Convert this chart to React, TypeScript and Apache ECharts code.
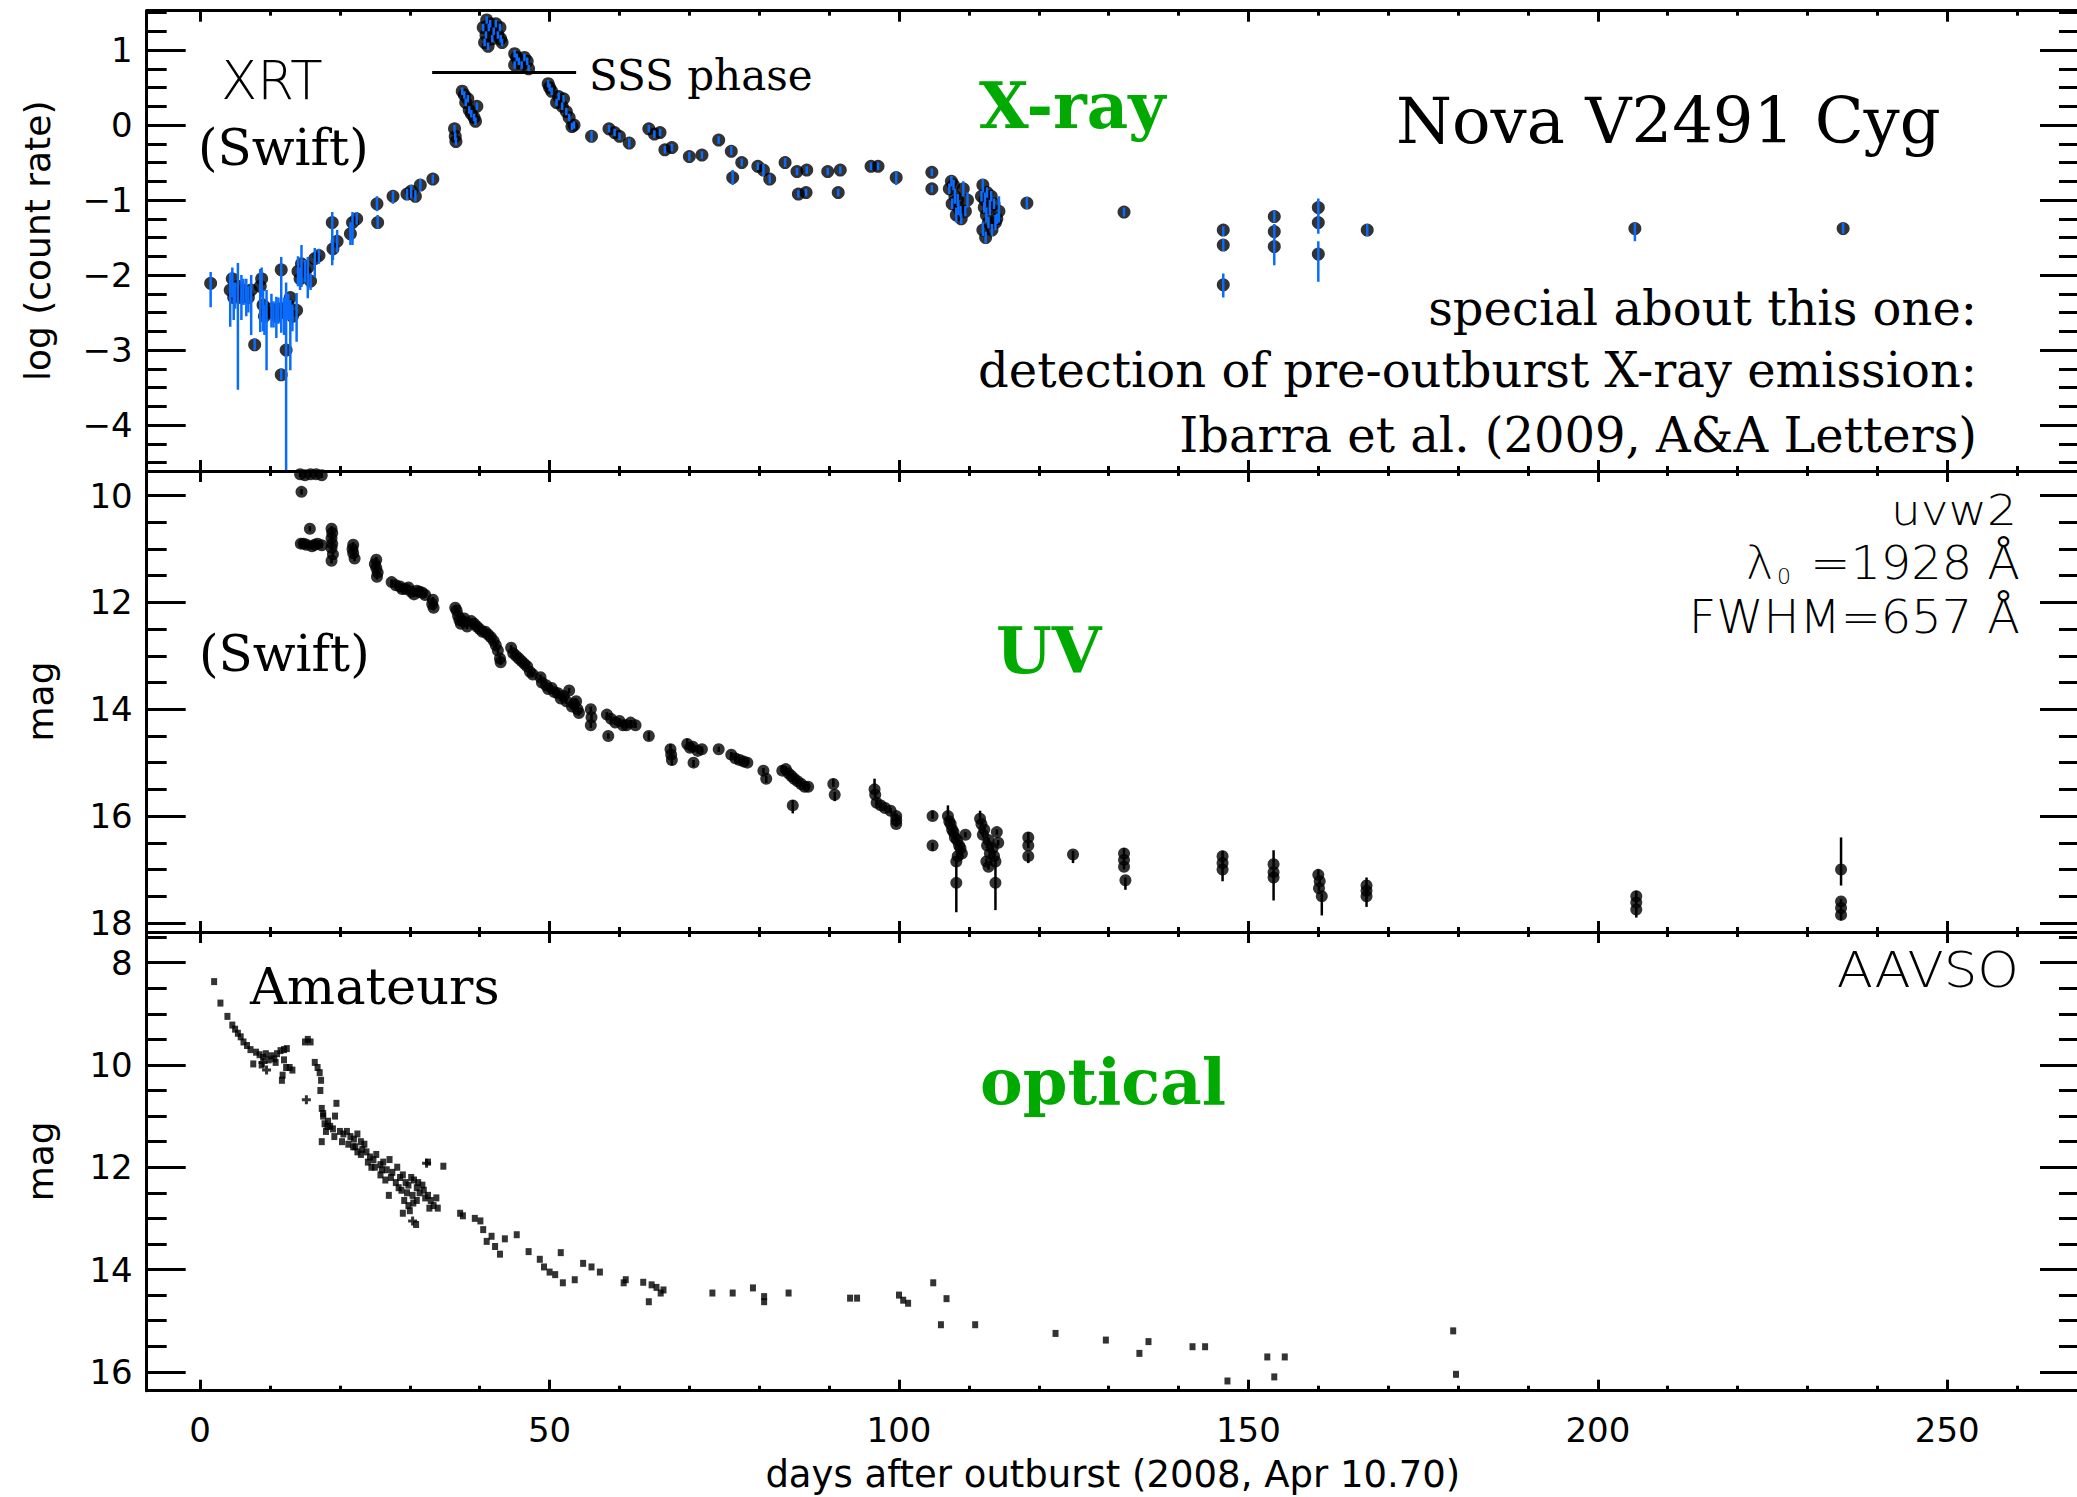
import React, { useEffect, useRef } from 'react';
import * as echarts from 'echarts';

// ---------------- data ----------------
const dayRange = [-7.65, 268.85];
const xrayRange = [-4.613, 1.524];
const uvRange = [9.54, 18.17];
const optRange = [7.4, 16.37];

const dayMajor = [0, 50, 100, 150, 200, 250];
const dayMinor = [10, 20, 30, 40, 60, 70, 80, 90, 110, 120, 130, 140, 160, 170, 180, 190, 210, 220, 230, 240, 260];
const xrayMajor = [-4, -3, -2, -1, 0, 1];
const xrayMinor = [-4.5, -4.25, -3.75, -3.5, -3.25, -2.75, -2.5, -2.25, -1.75, -1.5, -1.25, -0.75, -0.5, -0.25, 0.25, 0.5, 0.75, 1.25, 1.5];
const uvMajor = [10, 12, 14, 16, 18];
const uvMinor = [10.5, 11, 11.5, 12.5, 13, 13.5, 14.5, 15, 15.5, 16.5, 17, 17.5];
const optMajor = [8, 10, 12, 14, 16];
const optMinor = [7.5, 8.5, 9, 9.5, 10.5, 11, 11.5, 12.5, 13, 13.5, 14.5, 15, 15.5];

// Swift XRT: [day, log count rate, error low, error high]
const xrayPoints = [
  [1.5, -2.11, -2.43, -1.96], [4.3, -2.2, -2.69, -1.97], [4.6, -2.05, -2.3, -1.9], [4.8, -2.3, -2.6, -2.1],
  [5.0, -2.25, -2.45, -2.1], [5.4, -2.15, -3.53, -1.84], [5.9, -2.3, -2.6, -2.0], [6.2, -2.2, -2.4, -2.05],
  [6.6, -2.25, -2.55, -2.05], [6.9, -2.3, -2.5, -2.15], [7.3, -2.2, -2.8, -2.0], [7.8, -2.93, -3.0, -2.85],
  [8.6, -2.15, -2.76, -1.92], [8.8, -2.05, -2.3, -1.9], [9.0, -2.4, -2.75, -2.2], [9.2, -2.55, -2.8, -2.4],
  [9.5, -2.5, -3.27, -2.2], [10.2, -2.45, -2.7, -2.25], [10.5, -2.5, -2.7, -2.35], [10.9, -2.55, -2.84, -2.29],
  [11.2, -2.45, -2.65, -2.3], [11.6, -1.93, -2.77, -1.76], [11.6, -3.33, -3.4, -3.25], [12.0, -2.5, -2.8, -2.3],
  [12.3, -3.0, -4.6, -2.1], [12.6, -2.4, -2.6, -2.25], [12.9, -2.3, -3.27, -2.33], [13.2, -2.55, -2.75, -2.4],
  [13.8, -2.47, -2.89, -2.24], [14.0, -1.95, -2.15, -1.75], [14.3, -2.05, -2.2, -1.9], [14.5, -1.85, -2.16, -1.6],
  [15.0, -1.95, -2.1, -1.8], [15.4, -1.9, -2.31, -1.76], [15.8, -2.08, -2.2, -1.98], [16.4, -1.78, -2.03, -1.64],
  [17.0, -1.74, -1.85, -1.65], [18.9, -1.3, -1.87, -1.16], [19.0, -1.65, -1.8, -1.5], [19.6, -1.55, -1.7, -1.4],
  [21.5, -1.45, -1.6, -1.3], [21.8, -1.3, -1.6, -1.16], [22.4, -1.25, -1.33, -1.16], [25.3, -1.05, -1.15, -0.95],
  [25.4, -1.3, -1.38, -1.2], [27.6, -0.95, -1.05, -0.88], [29.6, -0.92, -1.0, -0.85], [30.2, -0.88, -0.98, -0.8],
  [30.8, -0.95, -1.02, -0.87], [31.5, -0.8, -0.88, -0.72], [33.3, -0.72, -0.78, -0.66],
  [36.4, -0.05, -0.1, 0.0], [36.5, -0.15, -0.2, -0.1], [36.6, -0.22, -0.27, -0.17], [37.5, 0.45, 0.4, 0.5],
  [37.8, 0.4, 0.35, 0.45], [38.0, 0.3, 0.25, 0.35], [38.3, 0.35, 0.3, 0.4], [38.5, 0.2, 0.15, 0.25],
  [38.8, 0.15, 0.1, 0.2], [39.2, 0.1, 0.05, 0.15], [39.4, 0.05, 0.0, 0.1], [39.6, 0.25, 0.2, 0.3],
  [40.5, 1.3, 1.25, 1.35], [40.7, 1.1, 1.05, 1.15], [40.9, 1.2, 1.15, 1.25], [41.0, 1.4, 1.35, 1.45],
  [41.2, 1.05, 1.0, 1.1], [41.3, 1.3, 1.25, 1.35], [41.5, 1.35, 1.3, 1.4], [41.8, 1.15, 1.1, 1.2],
  [42.0, 1.25, 1.2, 1.3], [42.3, 1.35, 1.3, 1.4], [42.6, 1.2, 1.15, 1.25], [42.9, 1.3, 1.25, 1.35],
  [43.0, 1.15, 1.1, 1.2], [43.2, 1.1, 1.05, 1.15],
  [45.0, 0.95, 0.9, 1.0], [45.0, 0.8, 0.75, 0.85], [45.3, 0.9, 0.85, 0.95], [45.6, 0.85, 0.8, 0.9],
  [46.0, 0.8, 0.75, 0.85], [46.4, 0.9, 0.85, 0.95], [46.8, 0.85, 0.8, 0.9], [47.0, 0.75, 0.7, 0.8],
  [49.8, 0.55, 0.5, 0.6], [50.0, 0.5, 0.45, 0.55], [50.3, 0.45, 0.4, 0.5], [51.0, 0.3, 0.25, 0.35],
  [51.3, 0.38, 0.33, 0.43], [51.8, 0.25, 0.2, 0.3], [52.0, 0.35, 0.3, 0.4], [52.4, 0.18, 0.13, 0.23],
  [52.8, 0.1, 0.05, 0.15], [53.2, -0.02, -0.07, 0.03], [53.5, 0.0, -0.05, 0.05], [56.0, -0.15, -0.22, -0.08],
  [58.5, -0.05, -0.1, 0.0], [59.3, -0.1, -0.15, -0.05], [60.0, -0.15, -0.2, -0.1], [61.4, -0.24, -0.3, -0.18],
  [64.2, -0.05, -0.1, 0.0], [65.0, -0.12, -0.17, -0.07], [65.8, -0.1, -0.15, -0.05], [66.5, -0.33, -0.38, -0.28],
  [67.5, -0.3, -0.35, -0.25], [70.0, -0.42, -0.48, -0.36], [71.8, -0.4, -0.45, -0.35], [74.2, -0.2, -0.25, -0.15],
  [76.0, -0.35, -0.4, -0.28], [76.2, -0.7, -0.8, -0.6], [77.5, -0.5, -0.55, -0.45], [79.8, -0.55, -0.6, -0.5],
  [80.6, -0.6, -0.68, -0.52], [81.5, -0.72, -0.78, -0.66], [83.7, -0.5, -0.56, -0.44], [85.4, -0.62, -0.67, -0.57],
  [86.8, -0.6, -0.65, -0.55], [85.6, -0.92, -0.97, -0.87], [86.7, -0.9, -0.95, -0.85], [89.8, -0.62, -0.67, -0.57],
  [91.6, -0.6, -0.65, -0.55], [91.3, -0.9, -0.95, -0.85], [96.0, -0.55, -0.6, -0.5], [97.0, -0.55, -0.6, -0.5],
  [99.6, -0.7, -0.8, -0.62], [104.7, -0.63, -0.68, -0.58], [104.7, -0.85, -0.9, -0.8],
  [107.2, -0.85, -0.92, -0.78], [107.5, -0.75, -0.82, -0.68], [107.6, -1.05, -1.12, -0.98], [107.8, -0.8, -0.87, -0.73],
  [108.0, -0.95, -1.05, -0.85], [108.2, -1.2, -1.3, -1.1], [108.4, -1.0, -1.08, -0.92], [108.5, -1.1, -1.2, -1.0],
  [108.8, -1.15, -1.22, -1.08], [108.9, -1.25, -1.32, -1.18], [109.2, -0.85, -0.95, -0.75], [109.5, -1.15, -1.22, -1.08],
  [109.8, -1.0, -1.1, -0.9],
  [111.8, -0.95, -1.02, -0.88], [112.0, -0.8, -0.9, -0.72], [112.0, -1.4, -1.48, -1.3], [112.2, -1.1, -1.17, -1.03],
  [112.3, -1.0, -1.1, -0.9], [112.4, -1.5, -1.58, -1.42], [112.5, -1.2, -1.3, -1.1], [112.6, -0.9, -0.97, -0.83],
  [112.8, -1.3, -1.38, -1.22], [113.0, -1.1, -1.2, -1.0], [113.2, -0.95, -1.02, -0.88], [113.3, -1.4, -1.48, -1.32],
  [113.6, -1.05, -1.12, -0.98], [113.8, -1.3, -1.4, -1.2], [114.0, -1.25, -1.32, -1.18], [114.3, -1.15, -1.3, -0.95],
  [118.3, -1.04, -1.12, -0.96], [132.2, -1.16, -1.22, -1.1], [146.4, -1.4, -1.48, -1.35], [146.4, -1.6, -1.68, -1.52],
  [146.4, -2.13, -2.3, -1.98], [153.7, -1.22, -1.3, -1.14], [153.7, -1.42, -1.52, -1.32], [153.7, -1.62, -1.87, -1.5],
  [160.0, -1.1, -1.2, -0.98], [160.0, -1.3, -1.45, -1.15], [160.0, -1.72, -2.09, -1.55], [167.0, -1.4, -1.48, -1.32],
  [205.3, -1.38, -1.55, -1.3], [235.1, -1.38, -1.45, -1.3],
];

// SSS phase bar: [start day, end day], level in log count rate
const sssPhase = [33.2, 53.8];
const sssLevel = 0.7;

// Swift UVOT uvw2: [day, mag, error low (bright), error high (faint)]
const uvPoints = [
  [14.3, 9.6, 9.55, 9.65], [15.0, 9.62, 9.57, 9.67], [15.8, 9.6, 9.55, 9.65], [16.6, 9.6, 9.55, 9.65], [17.4, 9.62, 9.57, 9.67],
  [14.5, 9.93, 9.88, 9.98], [15.7, 10.62, 10.57, 10.67],
  [14.4, 10.9, 10.85, 10.95], [14.8, 10.9, 10.85, 10.95], [15.2, 10.92, 10.87, 10.97], [16.0, 10.95, 10.9, 11.0],
  [16.4, 10.92, 10.87, 10.97], [16.8, 10.9, 10.85, 10.95], [17.4, 10.93, 10.88, 10.98],
  [18.8, 10.62, 10.57, 10.67], [18.9, 10.7, 10.65, 10.75], [18.8, 10.8, 10.75, 10.85], [18.9, 10.9, 10.85, 10.95],
  [18.8, 10.98, 10.93, 11.03], [19.0, 11.1, 11.05, 11.15], [18.8, 11.22, 11.17, 11.27],
  [21.9, 10.92, 10.87, 10.97], [21.8, 11.0, 10.95, 11.05], [21.9, 11.08, 11.03, 11.13], [22.1, 11.18, 11.13, 11.23],
  [25.2, 11.2, 11.15, 11.25], [25.0, 11.28, 11.23, 11.33], [25.2, 11.35, 11.3, 11.4], [25.4, 11.44, 11.39, 11.49], [25.3, 11.52, 11.47, 11.57],
  [27.4, 11.62, 11.57, 11.67], [28.0, 11.68, 11.63, 11.73], [28.6, 11.7, 11.65, 11.75], [28.9, 11.75, 11.7, 11.8],
  [29.4, 11.75, 11.7, 11.8], [29.8, 11.72, 11.67, 11.77], [30.2, 11.8, 11.75, 11.85], [30.6, 11.85, 11.8, 11.9],
  [31.0, 11.78, 11.73, 11.83], [31.4, 11.8, 11.75, 11.85], [31.8, 11.82, 11.77, 11.87], [32.2, 11.86, 11.81, 11.91],
  [33.3, 11.95, 11.9, 12.0], [33.2, 12.03, 11.98, 12.08], [33.4, 12.1, 12.05, 12.15],
  [36.5, 12.1, 12.05, 12.15], [36.7, 12.15, 12.1, 12.2], [36.9, 12.25, 12.2, 12.3], [37.1, 12.33, 12.28, 12.38],
  [37.3, 12.4, 12.35, 12.45], [37.6, 12.35, 12.3, 12.4], [37.8, 12.3, 12.25, 12.35], [38.2, 12.45, 12.4, 12.5],
  [38.8, 12.35, 12.3, 12.4], [39.2, 12.4, 12.35, 12.45], [39.6, 12.45, 12.4, 12.5], [40.0, 12.5, 12.45, 12.55],
  [40.4, 12.55, 12.5, 12.6], [40.8, 12.55, 12.5, 12.6], [41.2, 12.6, 12.55, 12.65], [41.6, 12.65, 12.6, 12.7],
  [42.0, 12.72, 12.67, 12.77], [42.3, 12.8, 12.75, 12.85], [42.6, 12.9, 12.85, 12.95], [42.9, 13.05, 13.0, 13.1],
  [43.0, 13.12, 13.07, 13.17],
  [44.5, 12.85, 12.8, 12.9], [44.8, 12.95, 12.9, 13.0], [45.2, 13.0, 12.95, 13.05], [45.6, 13.05, 13.0, 13.1],
  [46.0, 13.1, 13.05, 13.15], [46.4, 13.15, 13.1, 13.2], [46.8, 13.2, 13.15, 13.25], [47.2, 13.3, 13.25, 13.35],
  [47.6, 13.35, 13.3, 13.4],
  [48.7, 13.4, 13.35, 13.45], [48.9, 13.5, 13.45, 13.55], [49.5, 13.55, 13.5, 13.6], [49.8, 13.62, 13.57, 13.67],
  [50.3, 13.6, 13.55, 13.65], [50.7, 13.68, 13.63, 13.73], [51.2, 13.7, 13.65, 13.75], [51.6, 13.8, 13.75, 13.85],
  [52.0, 13.75, 13.7, 13.8], [52.4, 13.85, 13.8, 13.9], [52.8, 13.65, 13.6, 13.7], [53.2, 13.95, 13.9, 14.0],
  [53.5, 13.9, 13.85, 13.95], [53.8, 13.85, 13.8, 13.9], [54.0, 14.0, 13.95, 14.05], [54.2, 14.07, 14.02, 14.12],
  [55.9, 14.0, 13.95, 14.05], [56.0, 14.15, 14.1, 14.2], [55.9, 14.3, 14.25, 14.35],
  [58.2, 14.1, 14.05, 14.15], [58.8, 14.18, 14.13, 14.23], [59.4, 14.25, 14.2, 14.3], [60.0, 14.22, 14.17, 14.27],
  [60.5, 14.3, 14.25, 14.35], [61.0, 14.3, 14.25, 14.35], [61.6, 14.25, 14.2, 14.3], [62.3, 14.3, 14.25, 14.35],
  [58.4, 14.5, 14.45, 14.55], [64.2, 14.5, 14.42, 14.58],
  [67.3, 14.75, 14.65, 14.8], [67.4, 14.85, 14.8, 14.9], [67.5, 14.95, 14.9, 15.05],
  [69.7, 14.65, 14.55, 14.7], [70.1, 14.72, 14.67, 14.77], [70.5, 14.7, 14.65, 14.75], [71.2, 14.78, 14.73, 14.83],
  [71.8, 14.75, 14.7, 14.8], [70.6, 15.0, 14.95, 15.08], [74.2, 14.75, 14.7, 14.8],
  [76.0, 14.85, 14.8, 14.9], [76.6, 14.92, 14.87, 14.97], [77.2, 14.95, 14.9, 15.0], [77.8, 14.98, 14.93, 15.03], [78.3, 15.0, 14.95, 15.05],
  [80.6, 15.15, 15.1, 15.2], [81.0, 15.3, 15.25, 15.38],
  [83.3, 15.15, 15.05, 15.2], [83.8, 15.12, 15.07, 15.17], [84.2, 15.2, 15.15, 15.25], [84.6, 15.25, 15.2, 15.3],
  [85.0, 15.3, 15.25, 15.35], [85.5, 15.35, 15.3, 15.4], [86.0, 15.4, 15.35, 15.45], [86.5, 15.45, 15.4, 15.5],
  [87.0, 15.45, 15.4, 15.5], [84.8, 15.8, 15.7, 15.95],
  [90.6, 15.4, 15.3, 15.45], [90.8, 15.6, 15.55, 15.72],
  [96.5, 15.5, 15.3, 15.55], [96.6, 15.6, 15.55, 15.65], [96.8, 15.75, 15.7, 15.8], [97.4, 15.8, 15.75, 15.85],
  [98.0, 15.85, 15.8, 15.9], [98.8, 15.9, 15.85, 15.95], [99.6, 16.0, 15.95, 16.05], [99.6, 16.08, 16.03, 16.13], [99.6, 16.15, 16.1, 16.2],
  [104.8, 16.0, 15.9, 16.05], [104.8, 16.55, 16.5, 16.65],
  [107.0, 16.0, 15.8, 16.05], [107.2, 16.1, 16.05, 16.15], [107.4, 16.15, 16.1, 16.2], [107.6, 16.25, 16.2, 16.3],
  [107.8, 16.3, 16.25, 16.35], [108.0, 16.4, 16.35, 16.45], [108.3, 16.45, 16.4, 16.5], [108.6, 16.55, 16.5, 16.6],
  [108.8, 16.6, 16.55, 16.65], [109.0, 16.7, 16.65, 16.75], [108.4, 16.75, 16.7, 16.8], [109.5, 16.35, 16.3, 16.4],
  [108.2, 16.85, 16.8, 16.9], [108.2, 17.25, 16.9, 17.8],
  [111.6, 16.05, 15.9, 16.1], [111.8, 16.15, 16.1, 16.2], [112.0, 16.35, 16.3, 16.4], [112.2, 16.25, 16.2, 16.3],
  [112.6, 16.55, 16.5, 16.6], [112.8, 16.45, 16.4, 16.5], [113.0, 16.7, 16.65, 16.75], [113.4, 16.6, 16.55, 16.65],
  [113.6, 16.75, 16.7, 16.8], [114.0, 16.3, 16.25, 16.35], [114.2, 16.5, 16.45, 16.55], [112.5, 16.85, 16.8, 16.9],
  [112.8, 16.95, 16.9, 17.0], [113.8, 16.85, 16.8, 16.9], [113.8, 17.25, 16.9, 17.76],
  [118.5, 16.4, 16.3, 16.45], [118.5, 16.55, 16.5, 16.6], [118.5, 16.75, 16.7, 16.88],
  [124.9, 16.72, 16.65, 16.88],
  [132.2, 16.7, 16.6, 16.75], [132.2, 16.82, 16.77, 16.87], [132.2, 16.95, 16.9, 17.0], [132.4, 17.2, 17.15, 17.38],
  [146.3, 16.75, 16.65, 16.8], [146.3, 16.88, 16.83, 16.93], [146.3, 17.0, 16.95, 17.22],
  [153.6, 16.9, 16.64, 16.95], [153.6, 17.05, 17.0, 17.1], [153.6, 17.15, 17.1, 17.58],
  [160.0, 17.1, 17.0, 17.15], [160.2, 17.22, 17.17, 17.27], [160.1, 17.35, 17.3, 17.4], [160.5, 17.5, 17.45, 17.86],
  [166.9, 17.3, 17.15, 17.35], [166.9, 17.4, 17.35, 17.45], [166.9, 17.5, 17.45, 17.7],
  [205.5, 17.5, 17.4, 17.55], [205.5, 17.62, 17.57, 17.67], [205.5, 17.75, 17.7, 17.9],
  [234.8, 17.0, 16.4, 17.3], [234.8, 17.6, 17.55, 17.65], [234.8, 17.72, 17.67, 17.77], [234.8, 17.85, 17.8, 17.95],
];

// AAVSO optical: [day, mag]
const optPoints = [
  [2.0, 8.37], [2.9, 8.79], [3.9, 9.05], [4.6, 9.22], [5.0, 9.3], [5.4, 9.38], [5.8, 9.45], [6.2, 9.55], [6.7, 9.62],
  [7.2, 9.7], [7.6, 9.98], [8.0, 9.75], [8.5, 9.8], [8.8, 10.0], [9.0, 9.85], [9.4, 9.78], [9.8, 9.9], [10.2, 9.82],
  [10.6, 9.88], [10.8, 9.95], [11.0, 9.78], [11.5, 9.72], [12.0, 9.7], [12.0, 9.9], [12.4, 9.68], [11.8, 10.2],
  [12.3, 10.05], [12.8, 10.05], [13.2, 10.1], [11.7, 10.3],
  [15.0, 9.55], [15.4, 9.5], [15.8, 9.55], [16.4, 9.95], [16.8, 10.05], [17.1, 10.15], [17.3, 10.3], [17.2, 10.5],
  [17.4, 11.5], [17.4, 10.85], [17.6, 11.0], [17.8, 11.15], [18.0, 11.3], [18.2, 11.2], [18.3, 11.1], [18.6, 11.2],
  [19.0, 11.25], [19.2, 11.4], [19.3, 11.0], [19.5, 10.75], [17.6, 10.95], [20.0, 11.3], [20.3, 11.5], [20.5, 11.35],
  [21.0, 11.3], [21.2, 11.55], [21.5, 11.4], [22.0, 11.45], [22.2, 11.6], [22.5, 11.35], [23.0, 11.5], [23.2, 11.65],
  [23.5, 11.55], [21.9, 11.6], [22.5, 11.7], [23.0, 11.75], [23.8, 11.7], [24.0, 11.9], [24.3, 11.8], [24.8, 11.85],
  [25.0, 12.0], [25.2, 11.75], [25.8, 11.95], [26.0, 12.05], [26.2, 11.9], [26.7, 12.05], [27.1, 11.85], [24.5, 12.0],
  [25.8, 12.15], [26.5, 12.25], [27.3, 12.2], [27.5, 12.1], [28.0, 12.3], [28.2, 12.0], [28.4, 12.4], [28.8, 12.45],
  [27.0, 12.55], [28.6, 12.2], [29.0, 12.15], [29.4, 12.3], [29.6, 12.5], [29.8, 12.35], [30.2, 12.2], [30.4, 12.55],
  [30.6, 12.25], [31.0, 12.4], [31.2, 12.3], [31.4, 12.5], [31.8, 12.35], [32.0, 12.45], [32.2, 12.6], [32.6, 12.55],
  [29.2, 12.65], [29.8, 12.75], [30.5, 12.7], [31.0, 12.65], [32.8, 12.8], [33.0, 12.65], [33.4, 12.75], [33.8, 12.6],
  [34.0, 12.8], [32.6, 11.9], [34.8, 11.98], [30.9, 13.12], [29.0, 12.9], [30.0, 12.85],
  [37.2, 12.9], [37.6, 12.95], [39.3, 13.0], [40.1, 13.05], [40.5, 13.22], [41.0, 13.45], [41.7, 13.35], [42.2, 13.55],
  [42.9, 13.7], [43.6, 13.4], [45.3, 13.32], [47.0, 13.65], [48.6, 13.8], [49.2, 13.95], [50.0, 14.05], [50.8, 14.1],
  [51.6, 13.67], [51.9, 14.26], [53.6, 14.2], [54.8, 13.88], [56.0, 13.95], [57.2, 14.05], [60.6, 14.26], [60.9, 14.2],
  [63.4, 14.25], [64.2, 14.63], [64.6, 14.3], [65.3, 14.35], [65.9, 14.46], [66.3, 14.4], [73.3, 14.46], [76.2, 14.46],
  [79.1, 14.36], [80.7, 14.53], [80.7, 14.63], [84.2, 14.46], [93.0, 14.56], [94.0, 14.56], [100.0, 14.5], [100.6, 14.6],
  [101.3, 14.66], [104.9, 14.26], [106.8, 14.57], [106.0, 15.08], [110.9, 15.08], [122.4, 15.25], [129.6, 15.38],
  [134.4, 15.64], [135.7, 15.41], [142.0, 15.51], [143.8, 15.51], [147.0, 16.18], [152.7, 15.71], [155.2, 15.71],
  [153.7, 16.1], [179.3, 15.2], [179.7, 16.05],
];
// AAVSO points drawn with '+'
const optPlusPoints = [[9.5, 10.1], [9.0, 9.95], [15.2, 10.68], [30.4, 13.05], [32.4, 11.92]];

// ---------------- style / layout ----------------
const BLACK = '#000000';
const GREEN = '#00aa00';
const BLUE = '#0a6cff';
const SANS = '"DejaVu Sans", sans-serif';
const SERIF = '"DejaVu Serif", serif';
const GRID_LEFT = 146.7;
const GRID_WIDTH = 1932.3;
const PANELS = [
  { top: 10.7, height: 460.3 },
  { top: 471, height: 461 },
  { top: 932, height: 458.7 },
];

function xAxesFor(gi: number, showLabels: boolean) {
  const base = { gridIndex: gi, type: 'value', min: dayRange[0], max: dayRange[1], splitLine: { show: false } };
  const line = { show: true, onZero: false, lineStyle: { color: BLACK, width: 3 } };
  const noLine = { show: false, onZero: false };
  const major = { show: true, inside: true, length: 11, lineStyle: { color: BLACK, width: 3 }, customValues: dayMajor };
  const minor = { show: true, inside: true, length: 5, lineStyle: { color: BLACK, width: 3 }, customValues: dayMinor };
  return [
    {
      ...base, position: 'bottom', axisLine: line, axisTick: major,
      axisLabel: { show: showLabels, customValues: dayMajor, margin: 22, fontFamily: SANS, fontSize: 34, color: BLACK },
      name: showLabels ? 'days after outburst (2008, Apr 10.70)' : '',
      nameLocation: 'middle', nameGap: 65,
      nameTextStyle: { fontFamily: SANS, fontSize: 37, color: BLACK },
    },
    { ...base, position: 'bottom', axisLine: noLine, axisTick: minor, axisLabel: { show: false } },
    { ...base, position: 'top', axisLine: line, axisTick: major, axisLabel: { show: false } },
    { ...base, position: 'top', axisLine: noLine, axisTick: minor, axisLabel: { show: false } },
  ];
}

function yAxesFor(gi: number, range: number[], majorVals: number[], minorVals: number[], inverse: boolean, name: string, nameGap: number) {
  const base = { gridIndex: gi, type: 'value', min: range[0], max: range[1], inverse, splitLine: { show: false } };
  const line = { show: true, onZero: false, lineStyle: { color: BLACK, width: 3 } };
  const noLine = { show: false, onZero: false };
  const major = { show: true, inside: true, length: 39, lineStyle: { color: BLACK, width: 3 }, customValues: majorVals };
  const minor = { show: true, inside: true, length: 20, lineStyle: { color: BLACK, width: 3 }, customValues: minorVals };
  return [
    {
      ...base, position: 'left', axisLine: line, axisTick: major,
      axisLabel: {
        show: true, customValues: majorVals, margin: 14, fontFamily: SANS, fontSize: 34, color: BLACK,
        formatter: (v: number) => String(v).replace('-', '\u2212'),
      },
      name, nameLocation: 'middle', nameGap,
      nameTextStyle: { fontFamily: SANS, fontSize: 36, color: BLACK },
    },
    { ...base, position: 'left', axisLine: noLine, axisTick: minor, axisLabel: { show: false } },
    { ...base, position: 'right', axisLine: line, axisTick: major, axisLabel: { show: false } },
    { ...base, position: 'right', axisLine: noLine, axisTick: minor, axisLabel: { show: false } },
  ];
}

function errorBars(color: string, width: number) {
  return (params: any, api: any) => {
    const x = api.value(0);
    const a = api.coord([x, api.value(1)]);
    const b = api.coord([x, api.value(2)]);
    return {
      type: 'line',
      shape: { x1: a[0], y1: a[1], x2: b[0], y2: b[1] },
      style: { stroke: color, lineWidth: width },
    };
  };
}

function txt(text: string, x: number, y: number, font: any, align = 'left', extra: any = {}) {
  return {
    type: 'text', x, y, ...extra,
    style: { text, align, verticalAlign: 'middle', fill: BLACK, ...font },
  };
}

function buildOption() {
  const grids = PANELS.map((p) => ({ left: GRID_LEFT, top: p.top, width: GRID_WIDTH, height: p.height }));
  const xAxis = [...xAxesFor(0, false), ...xAxesFor(1, false), ...xAxesFor(2, true)];
  const yAxis = [
    ...yAxesFor(0, xrayRange, xrayMajor, xrayMinor, false, 'log (count rate)', 91),
    ...yAxesFor(1, uvRange, uvMajor, uvMinor, true, 'mag', 88),
    ...yAxesFor(2, optRange, optMajor, optMinor, true, 'mag', 88),
  ];

  const plusPath = 'path://M2,0H4V2H6V4H4V6H2V4H0V2H2Z';
  const idl = { fontFamily: SANS, fontWeight: 200 };

  const series: any[] = [
    // X-ray
    {
      type: 'scatter', xAxisIndex: 0, yAxisIndex: 0, symbol: 'circle', symbolSize: 13,
      itemStyle: { color: BLACK }, data: xrayPoints.map((p) => [p[0], p[1]]), z: 2, clip: true,
    },
    {
      type: 'custom', xAxisIndex: 0, yAxisIndex: 0, renderItem: errorBars(BLUE, 2.5), clip: true,
      data: xrayPoints.map((p) => [p[0], p[2], p[3]]), z: 3,
    },
    {
      type: 'line', xAxisIndex: 0, yAxisIndex: 0, symbol: 'none', z: 4,
      lineStyle: { color: BLACK, width: 3 },
      data: [[sssPhase[0], sssLevel], [sssPhase[1], sssLevel]],
    },
    // UV
    {
      type: 'custom', xAxisIndex: 4, yAxisIndex: 4, renderItem: errorBars(BLACK, 2.5), clip: true,
      data: uvPoints.map((p) => [p[0], p[2], p[3]]), z: 2,
    },
    {
      type: 'scatter', xAxisIndex: 4, yAxisIndex: 4, symbol: 'circle', symbolSize: 12,
      itemStyle: { color: BLACK }, data: uvPoints.map((p) => [p[0], p[1]]), z: 3, clip: true,
    },
    // optical
    {
      type: 'scatter', xAxisIndex: 8, yAxisIndex: 8, symbol: 'rect', symbolSize: [6, 7],
      itemStyle: { color: BLACK }, data: optPoints, z: 3, clip: true,
    },
    {
      type: 'scatter', xAxisIndex: 8, yAxisIndex: 8, symbol: plusPath, symbolSize: 9,
      itemStyle: { color: BLACK }, data: optPlusPoints, z: 3, clip: true,
    },
  ];

  const graphic = [
    txt('XRT', 221, 80, { ...idl, fontSize: 53 }),
    txt('(Swift)', 198, 148, { fontFamily: SERIF, fontSize: 50 }),
    txt('SSS phase', 589, 75, { fontFamily: SERIF, fontSize: 42 }),
    txt('X-ray', 979, 105, { fontFamily: SERIF, fontSize: 64, fontWeight: 'bold', fill: GREEN }),
    txt('Nova V2491 Cyg', 1396, 121, { fontFamily: SERIF, fontSize: 64 }),
    txt('special about this one:', 1977, 308, { fontFamily: SERIF, fontSize: 48, lineHeight: 56 }, 'right'),
    txt('detection of pre-outburst X-ray emission:', 1977, 370, { fontFamily: SERIF, fontSize: 48, lineHeight: 56 }, 'right'),
    txt('Ibarra et al. (2009, A&A Letters)', 1977, 435, { fontFamily: SERIF, fontSize: 48, lineHeight: 56 }, 'right'),
    txt('uvw2', 2017, 511, { ...idl, fontSize: 42, lineHeight: 38 }, 'right', { scaleX: 1.12 }),
    txt('\u03bb', 1746, 563, { ...idl, fontSize: 46, lineHeight: 40 }),
    txt('0', 1777, 576, { ...idl, fontSize: 22, lineHeight: 18 }),
    txt('=1928 \u00c5', 2020, 563, { ...idl, fontSize: 46, lineHeight: 40 }, 'right', { scaleX: 1.04 }),
    txt('FWHM=657 \u00c5', 2020, 617, { ...idl, fontSize: 46, lineHeight: 40 }, 'right', { scaleX: 1.04 }),
    txt('(Swift)', 199, 654, { fontFamily: SERIF, fontSize: 50 }),
    txt('UV', 996, 650, { fontFamily: SERIF, fontSize: 64, fontWeight: 'bold', fill: GREEN }),
    txt('Amateurs', 250, 986, { fontFamily: SERIF, fontSize: 51 }),
    txt('AAVSO', 2019, 970, { ...idl, fontSize: 50 }, 'right', { scaleX: 1.06 }),
    txt('optical', 980, 1081, { fontFamily: SERIF, fontSize: 64, fontWeight: 'bold', fill: GREEN }),
  ];

  return {
    animation: false,
    backgroundColor: '#ffffff',
    textStyle: { fontFamily: SANS },
    grid: grids,
    xAxis,
    yAxis,
    series,
    graphic,
  };
}

export default function App() {
  const ref = useRef<HTMLDivElement>(null);
  useEffect(() => {
    if (!ref.current) return;
    const chart = echarts.init(ref.current, null, { renderer: 'svg' });
    chart.setOption(buildOption() as any);
    return () => chart.dispose();
  }, []);
  return (
    <div style={{ position: 'fixed', left: 0, top: 0, width: 2077, height: 1497, overflow: 'hidden', background: '#fff' }}>
      <div ref={ref} style={{ width: 2090, height: 1497 }} />
    </div>
  );
}
